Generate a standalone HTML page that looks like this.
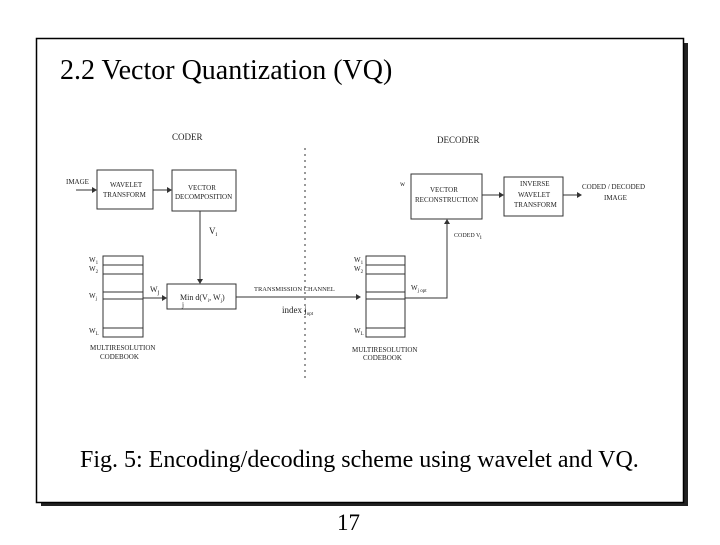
<!DOCTYPE html><html><head><style>body{margin:0;background:#fff;width:720px;height:540px;overflow:hidden}</style></head><body>
<svg width="720" height="540" xmlns="http://www.w3.org/2000/svg" font-family="Liberation Serif, serif">
<rect x="41" y="43" width="647" height="463" fill="#222"/>
<rect x="36.5" y="38.5" width="647" height="464" fill="#fff" stroke="#000" stroke-width="1.5"/>
<text x="60" y="79" font-size="28">2.2 Vector Quantization (VQ)</text>
<text x="80" y="467" font-size="24">Fig. 5: Encoding/decoding scheme using wavelet and VQ.</text>
<text x="337" y="530" font-size="23">17</text>
<g stroke="#333" fill="none" stroke-width="1">
<line x1="305" y1="148" x2="305" y2="378" stroke-dasharray="2,4"/>
<rect x="97" y="170" width="56" height="39"/>
<rect x="172" y="170" width="64" height="41"/>
<rect x="167" y="284" width="69" height="25"/>
<rect x="103" y="256" width="40" height="81"/>
<path d="M103 265H143M103 274H143M103 292H143M103 299H143M103 328H143"/>
<rect x="411" y="174" width="71" height="45"/>
<rect x="504" y="177" width="59" height="39"/>
<rect x="366" y="256" width="39" height="81"/>
<path d="M366 265H405M366 274H405M366 292H405M366 299H405M366 328H405"/>
<path d="M76 190H93M153 190H168M200 211V279M143 298H163M236 297H357M405 298H447V223M482 195H500M563 195H577"/>
</g>
<g fill="#333">
<path d="M97 190l-5-3v6zM172 190l-5-3v6zM200 284l-3-5h6zM167 298l-5-3v6zM361 297l-5-3v6zM447 219l-3 5h6zM504 195l-5-3v6zM582 195l-5-3v6z"/>
</g>
<g font-size="7" fill="#222">
<text x="172" y="140" font-size="9">CODER</text>
<text x="437" y="143" font-size="9">DECODER</text>
<text x="66" y="184">IMAGE</text>
<text x="110" y="187">WAVELET</text><text x="103" y="197">TRANSFORM</text>
<text x="188" y="190">VECTOR</text><text x="175" y="199">DECOMPOSITION</text>
<text x="209" y="234" font-size="9">V<tspan font-size="6" dy="2">i</tspan></text>
<text x="150" y="292" font-size="8">W<tspan font-size="6" dy="2">j</tspan></text>
<text x="180" y="300" font-size="8">Min  d(V<tspan font-size="5" dy="2">i</tspan><tspan dy="-2">, W</tspan><tspan font-size="5" dy="2">j</tspan><tspan dy="-2">)</tspan></text>
<text x="182" y="307">j</text>
<text x="89" y="262">W<tspan font-size="5" dy="2">1</tspan></text>
<text x="89" y="271">W<tspan font-size="5" dy="2">2</tspan></text>
<text x="89" y="298">W<tspan font-size="5" dy="2">j</tspan></text>
<text x="89" y="333">W<tspan font-size="5" dy="2">L</tspan></text>
<text x="90" y="350">MULTIRESOLUTION</text><text x="100" y="359">CODEBOOK</text>
<text x="254" y="291" font-size="6.5">TRANSMISSION CHANNEL</text>
<text x="282" y="313" font-size="9">index j<tspan font-size="5" dy="2">opt</tspan></text>
<text x="400" y="186">w</text>
<text x="430" y="192">VECTOR</text><text x="415" y="202">RECONSTRUCTION</text>
<text x="520" y="186">INVERSE</text><text x="518" y="197">WAVELET</text><text x="514" y="207">TRANSFORM</text>
<text x="582" y="189">CODED / DECODED</text><text x="604" y="200">IMAGE</text>
<text x="454" y="237" font-size="6">CODED V<tspan dy="2">i</tspan></text>
<text x="354" y="262">W<tspan font-size="5" dy="2">1</tspan></text>
<text x="354" y="271">W<tspan font-size="5" dy="2">2</tspan></text>
<text x="354" y="333">W<tspan font-size="5" dy="2">L</tspan></text>
<text x="411" y="290">W<tspan font-size="5" dy="2">j opt</tspan></text>
<text x="352" y="352">MULTIRESOLUTION</text><text x="363" y="360">CODEBOOK</text>
</g>
</svg>
</body></html>
